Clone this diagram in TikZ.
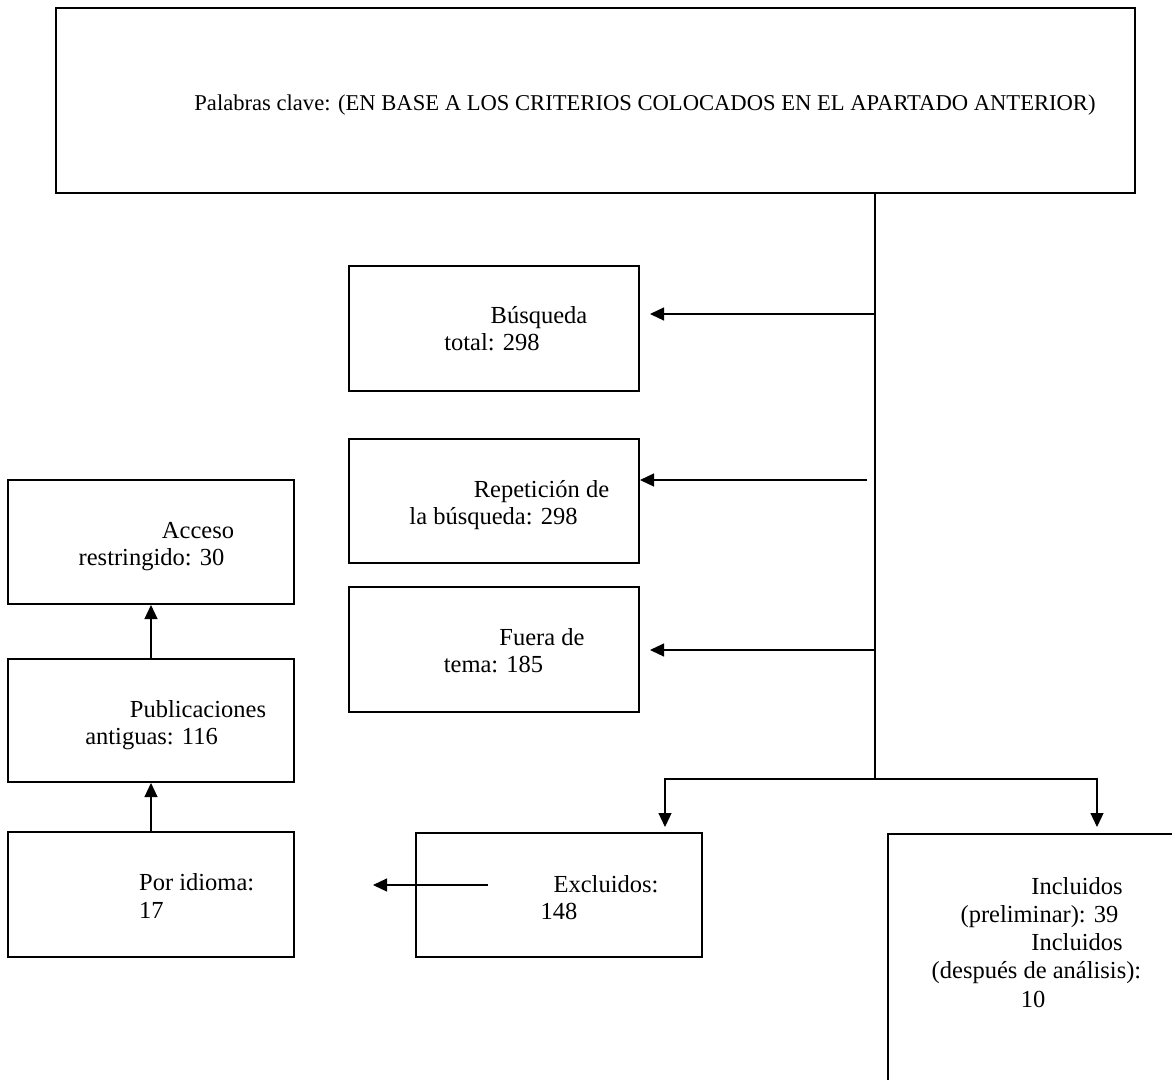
\documentclass[tikz,border=0pt]{standalone}
\usepackage{fontspec}
\setmainfont{Liberation Serif}
\usetikzlibrary{arrows.meta}
\begin{document}
\begin{tikzpicture}[x=1pt,y=-1pt,
  box/.style={draw, line width=2pt, inner sep=0pt},
  arr/.style={line width=1.2pt, -{Triangle[length=14pt,width=13pt]}},
  spinel/.style={line width=1.6pt},
  lbl/.style={inner sep=0pt, anchor=base, font=\fontsize{24.5}{28}\selectfont},
  lblw/.style={lbl, anchor=base west}]
\useasboundingbox (0,0) rectangle (1172,1079);
\clip (0,0) rectangle (1172,1079);
% boxes
\node[box, minimum width=1079pt, minimum height=185pt] (top) at (595.5,100.5) {};
\node[box, minimum width=290pt, minimum height=125pt] (busq) at (494,328.5) {};
\node[box, minimum width=290pt, minimum height=124pt] (rep) at (494,501) {};
\node[box, minimum width=290pt, minimum height=125pt] (fuera) at (494,649.5) {};
\node[box, minimum width=286pt, minimum height=124pt] (acceso) at (151,542) {};
\node[box, minimum width=286pt, minimum height=123pt] (publ) at (151,720.5) {};
\node[box, minimum width=286pt, minimum height=125pt] (idioma) at (151,894.5) {};
\node[box, minimum width=286pt, minimum height=124pt] (excl) at (559,895) {};
\node[box, minimum width=320pt, minimum height=270pt, anchor=north west] (incl) at (887,833) {};
% texts
\node[lbl, font=\fontsize{22.6}{26}\selectfont] (tt) at (645,110) {Palabras clave: (EN BASE A LOS CRITERIOS COLOCADOS EN EL APARTADO ANTERIOR)};
\node[lbl] (b1t) at (539,323) {Búsqueda};
\node[lbl] (b2t) at (492,350) {total: 298};
\node[lbl] (r1t) at (541.5,497) {Repetición de};
\node[lbl] (r2t) at (493.5,524) {la búsqueda: 298};
\node[lbl] (f1t) at (542,645) {Fuera de};
\node[lbl] (f2t) at (493.5,672) {tema: 185};
\node[lbl] (a1t) at (198,538) {Acceso};
\node[lbl] (a2t) at (151.5,565) {restringido: 30};
\node[lbl] (p1t) at (198,717) {Publicaciones};
\node[lbl] (p2t) at (151.5,744) {antiguas: 116};
\node[lblw] (i1t) at (139,890) {Por idioma:};
\node[lblw] (i2t) at (139,918) {17};
\node[lbl] (e1t) at (606,892) {Excluidos:};
\node[lbl] (e2t) at (559,919) {148};
\node[lbl] (n1t) at (1077,894) {Incluidos};
\node[lbl] (n2t) at (1039.5,922) {(preliminar): 39};
\node[lbl] (n3t) at (1077,950) {Incluidos};
\node[lbl] (n4t) at (1036.5,978) {(después de análisis):};
\node[lbl] (n5t) at (1033,1007) {10};
% connectors
\coordinate (spine) at (875,193);
\coordinate (jb) at (875,779);
\draw[spinel] (top.south -| spine) -- (jb);
\coordinate (s1) at (875,314); \coordinate (t1) at (650,314);
\draw[arr] (s1) -- (t1);
\coordinate (s2) at (867,480);
\draw[arr] (s2) -- (rep.east |- s2);
\coordinate (s3) at (875,650); \coordinate (t3) at (650,650);
\draw[arr] (s3) -- (t3);
\coordinate (tL) at (665,827); \coordinate (tR) at (1097,827);
\draw[arr] (jb) -| (tL);
\draw[arr] (jb) -| (tR);
\coordinate (e1) at (488,885); \coordinate (e2) at (373,885);
\draw[arr] (e1) -- (e2);
\draw[arr] (idioma.north) -- (publ.south);
\draw[arr] (publ.north) -- (acceso.south);
\end{tikzpicture}
\end{document}
